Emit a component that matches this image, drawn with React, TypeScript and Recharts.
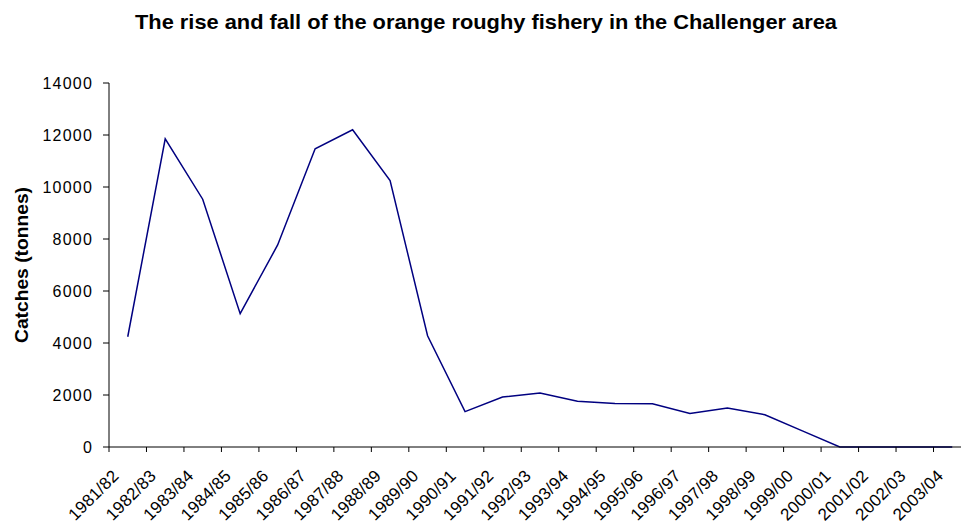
import { LineChart, Line, XAxis, YAxis, Label } from "recharts"

const seasons = [
	"1981/82", "1982/83", "1983/84", "1984/85", "1985/86", "1986/87", "1987/88", "1988/89",
	"1989/90", "1990/91", "1991/92", "1992/93", "1993/94", "1994/95", "1995/96", "1996/97",
	"1997/98", "1998/99", "1999/00", "2000/01", "2001/02", "2002/03", "2003/04",
]
const catches = [
	4240, 11850, 9530, 5130, 7770, 11470, 12200, 10250,
	4280, 1360, 1920, 2080, 1760, 1670, 1660, 1290,
	1500, 1240, 620, 0, 0, 0, 0,
]
const yTicks = [0, 2000, 4000, 6000, 8000, 10000, 12000, 14000]

const data = seasons.map((season, i) => ({ season, catches: catches[i] }))

const CHART_W = 980
const CHART_H = 527
const Y_AXIS_W = 109
const MARGIN_R = 9
const PLOT_W = CHART_W - Y_AXIS_W - MARGIN_R
const HALF_STEP = PLOT_W / seasons.length / 2
const FONT = "'Liberation Sans', Arial, sans-serif"

function SeasonTick({ x, y, payload }: any) {
	const tx = x - 8
	const ty = y + 30
	return (
		<g>
			<line x1={x - HALF_STEP} x2={x - HALF_STEP} y1={y} y2={y + 5} stroke="#000" />
			<text
				x={tx}
				y={ty}
				transform={`rotate(-45 ${tx} ${ty})`}
				textAnchor="end"
				fontSize={17}
				letterSpacing={0.2}
				fontFamily={FONT}
				fill="#000"
			>
				{payload.value}
			</text>
		</g>
	)
}

export default function App() {
	return (
		<div style={{ position: "fixed", left: 0, top: 0, width: 961, height: 527, overflow: "hidden", background: "#fff" }}>
			<svg width={961} height={50} style={{ position: "absolute", left: 0, top: 0 }}>
				<text
					x={486}
					y={29}
					textAnchor="middle"
					fontSize={21}
					fontWeight="bold"
					fontFamily={FONT}
					textLength={702}
					lengthAdjust="spacingAndGlyphs"
					fill="#000"
				>
					The rise and fall of the orange roughy fishery in the Challenger area
				</text>
			</svg>
			<LineChart
				width={CHART_W}
				height={CHART_H}
				data={data}
				margin={{ top: 83, right: MARGIN_R, left: 0, bottom: 0 }}
			>
				<XAxis
					dataKey="season"
					interval={0}
					height={80}
					padding={{ left: HALF_STEP, right: HALF_STEP }}
					tickLine={false}
					tickSize={0}
					tickMargin={0}
					axisLine={{ stroke: "#000" }}
					tick={<SeasonTick />}
				/>
				<YAxis
					width={Y_AXIS_W}
					domain={[0, 14000]}
					ticks={yTicks}
					interval={0}
					tickSize={6}
					tickMargin={10}
					axisLine={{ stroke: "#000" }}
					tickLine={{ stroke: "#000" }}
					tick={{ fontSize: 16, fill: "#000", fontFamily: FONT, letterSpacing: 1.2 }}
				>
					<Label
						content={() => (
							<text
								x={28}
								y={265}
								transform="rotate(-90 28 265)"
								textAnchor="middle"
								fontSize={18}
								fontWeight="bold"
								fontFamily={FONT}
								textLength={156}
								lengthAdjust="spacingAndGlyphs"
								fill="#000"
							>
								Catches (tonnes)
							</text>
						)}
					/>
				</YAxis>
				<Line
					type="linear"
					dataKey="catches"
					stroke="#000080"
					strokeWidth={1.5}
					dot={false}
					isAnimationActive={false}
				/>
			</LineChart>
		</div>
	)
}
